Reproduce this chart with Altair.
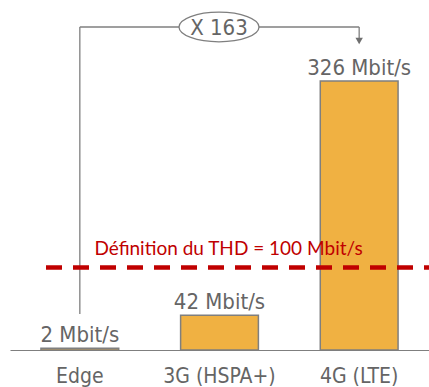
import altair as alt
import pandas as pd

# Peak mobile data rates by network generation (Mbit/s)
categories = ["Edge", "3G (HSPA+)", "4G (LTE)"]
speeds = [2, 42, 326]
speed_labels = ["2 Mbit/s", "42 Mbit/s", "326 Mbit/s"]

# Very-high-speed (THD) threshold
thd_value = 100
thd_label = "Définition du THD = 100 Mbit/s"

# Ratio between the fastest and slowest generation
ratio_label = "X 163"
bracket_from = "Edge"
bracket_to = "4G (LTE)"

FONT = "DejaVu Sans Condensed, Liberation Sans, sans-serif"
GREY_TEXT = "#656565"
GREY_LINE = "#7f7f7f"
ORANGE = "#f0b142"
RED = "#c00000"

bars_df = pd.DataFrame({"cat": categories, "speed": speeds, "label": speed_labels})

x_scale = alt.Scale(domain=categories, paddingInner=0.443, paddingOuter=0.2215)
y_scale = alt.Scale(domain=[0, 424])

x_enc = alt.X(
    "cat:N",
    scale=x_scale,
    sort=categories,
    axis=alt.Axis(
        title=None,
        labelAngle=0,
        labelAlign="center",
        labelBaseline="top",
        ticks=False,
        domainColor=GREY_LINE,
        domainWidth=1.2,
        labelFont=FONT,
        labelFontSize=21,
        labelColor=GREY_TEXT,
        labelPadding=15,
    ),
)
y_enc = alt.Y("speed:Q", scale=y_scale, axis=None)

bars = alt.Chart(bars_df).mark_bar(
    color=ORANGE, stroke=GREY_LINE, strokeWidth=1.5
).encode(x=x_enc, y=y_enc)

values = alt.Chart(bars_df).mark_text(
    font=FONT, fontSize=22, color=GREY_TEXT, baseline="alphabetic", dy=-6
).encode(x=alt.X("cat:N", scale=x_scale, sort=categories), y=y_enc, text="label:N")

thd_df = pd.DataFrame({"speed": [thd_value], "label": [thd_label], "cat": ["3G (HSPA+)"]})

thd_line = alt.Chart(thd_df).mark_rule(
    color=RED, strokeWidth=4.5, strokeDash=[16, 11]
).encode(y=y_enc, x=alt.value(36), x2=alt.value(419))

thd_text = alt.Chart(thd_df).mark_text(
    font="Lato, Liberation Sans, sans-serif", fontSize=19, color=RED,
    baseline="alphabetic", dy=-12, dx=9
).encode(x=alt.X("cat:N", scale=x_scale, sort=categories), y=y_enc, text="label:N")

# Bracket joining the slowest and fastest generations
left_df = pd.DataFrame({"cat": [bracket_from]})
right_df = pd.DataFrame({"cat": [bracket_to]})
span_df = pd.DataFrame({"start": [bracket_from], "end": [bracket_to]})

left_leg = alt.Chart(left_df).mark_rule(color=GREY_LINE, strokeWidth=1.3).encode(
    x=alt.X("cat:N", scale=x_scale, sort=categories),
    y=alt.value(27), y2=alt.value(314),
)
right_leg = alt.Chart(right_df).mark_rule(color=GREY_LINE, strokeWidth=1.3).encode(
    x=alt.X("cat:N", scale=x_scale, sort=categories),
    y=alt.value(27), y2=alt.value(40),
)
top_span = alt.Chart(span_df).mark_rule(color=GREY_LINE, strokeWidth=1.3).encode(
    x=alt.X("start:N", scale=x_scale, sort=categories, bandPosition=0.5),
    x2=alt.X2("end:N", bandPosition=0.5),
    y=alt.value(27),
)
arrow = alt.Chart(right_df).mark_point(
    shape="triangle-down", filled=True, color="#6f6f6f", size=55, opacity=1
).encode(x=alt.X("cat:N", scale=x_scale, sort=categories), y=alt.value(41))

ratio_df = pd.DataFrame({"label": [ratio_label]})
ratio_bubble = alt.Chart(ratio_df).mark_point(
    shape="M-1,0A1,0.37 0 1,1 1,0A1,0.37 0 1,1 -1,0Z",
    size=6400, filled=True, fill="white", stroke=GREY_LINE, strokeWidth=1.3, opacity=1,
).encode(x=alt.value(209), y=alt.value(27))
ratio_text = alt.Chart(ratio_df).mark_text(
    font=FONT, fontSize=22, color=GREY_TEXT, baseline="middle", dy=1
).encode(x=alt.value(209), y=alt.value(27), text="label:N")

chart = alt.layer(
    left_leg, top_span, right_leg, arrow,
    bars, values, thd_line, thd_text,
    ratio_bubble, ratio_text,
).properties(
    width=419,
    height=350,
    padding={"left": 10, "top": 0, "right": 0, "bottom": 37},
    autosize=alt.AutoSizeParams(type="none"),
    background="white",
).configure_view(stroke=None)

chart.save("out.html", embed_options={"renderer": "svg", "actions": False})
